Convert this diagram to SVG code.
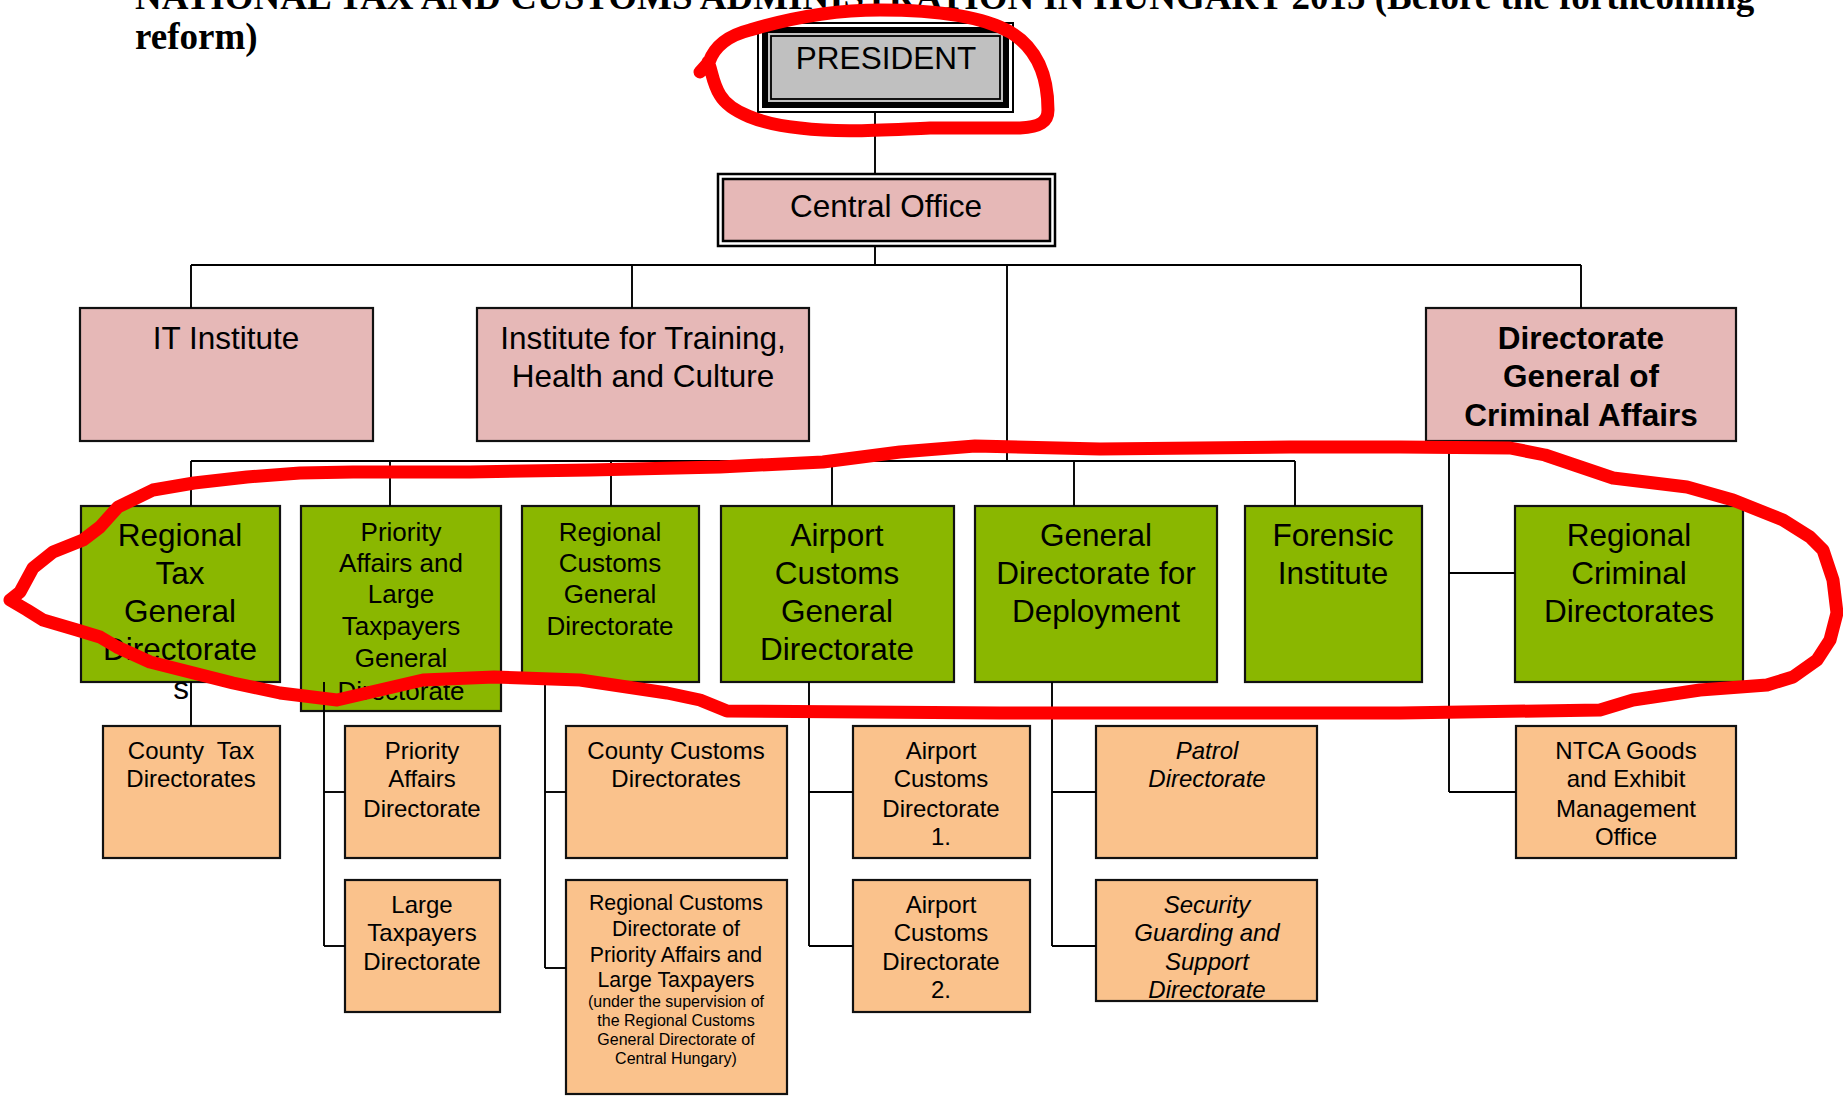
<svg xmlns="http://www.w3.org/2000/svg" width="1843" height="1096" viewBox="0 0 1843 1096">
<style>
text{font-family:"Liberation Sans",Arial,sans-serif;fill:#000;text-anchor:middle}
.title{font-family:"Liberation Serif","Times New Roman",serif;font-weight:bold;font-size:37px;text-anchor:start}
.pink{fill:#e6b8b7;stroke:#111;stroke-width:2.2}
.green{fill:#8ab700;stroke:#111;stroke-width:2.2}
.orange{fill:#fac28c;stroke:#111;stroke-width:2.2}
.big{font-size:31.5px}
.mid{font-size:26px}
.sm{font-size:24px}
.xs{font-size:21.3px}
.tiny{font-size:16px}
.it{font-style:italic}
.b{font-weight:bold}
#connectors line{stroke:#000;stroke-width:1.9;fill:none}
.red{fill:none;stroke:#ff0000;stroke-width:13;stroke-linecap:round;stroke-linejoin:round}
</style>
<rect width="1843" height="1096" fill="#fff"/>
<text class="title" x="135" y="9">NATIONAL TAX AND CUSTOMS ADMINISTRATION IN HUNGARY 2015 (Before the forthcoming</text>
<text class="title" x="135" y="49">reform)</text>

<g id="president">
<rect x="758" y="23" width="255" height="89" fill="#fff" stroke="#000" stroke-width="2"/>
<rect x="762" y="27" width="247" height="81" fill="#000"/>
<rect x="768" y="33" width="235" height="69" fill="#c0c0c0"/>
<rect x="771" y="36" width="229" height="63" fill="#c0c0c0" stroke="#000" stroke-width="1.8"/>
<text class="big" x="886" y="69">PRESIDENT</text>
</g>
<g id="central-office">
<rect x="718" y="174" width="337" height="72" fill="#fff" stroke="#000" stroke-width="2.5"/>
<rect x="723" y="179" width="327" height="62" fill="#e6b8b7" stroke="#000" stroke-width="2.5"/>
<text class="big" x="886" y="217">Central Office</text>
</g>
<g id="it-institute">
<rect class="pink" x="80" y="308" width="293" height="133"/>
<text class="big" x="226" y="349">IT Institute</text>
</g>
<g id="training-institute">
<rect class="pink" x="477" y="308" width="332" height="133"/>
<text class="big" x="643" y="349">Institute for Training,</text>
<text class="big" x="643" y="387">Health and Culture</text>
</g>
<g id="criminal-affairs">
<rect class="pink" x="1426" y="308" width="310" height="133"/>
<text class="big b" x="1581" y="349">Directorate</text>
<text class="big b" x="1581" y="387">General of</text>
<text class="big b" x="1581" y="426">Criminal Affairs</text>
</g>

<g id="regional-tax-gd">
<rect class="green" x="81" y="506" width="199" height="176"/>
<text class="big" x="180" y="546">Regional</text>
<text class="big" x="180" y="584">Tax</text>
<text class="big" x="180" y="622">General</text>
<text class="big" x="180" y="660">Directorate</text>
<text class="big" x="181" y="699">s</text>
</g>
<g id="priority-large-gd">
<rect class="green" x="301" y="506" width="200" height="205"/>
<text class="mid" x="401" y="541">Priority</text>
<text class="mid" x="401" y="572">Affairs and</text>
<text class="mid" x="401" y="603">Large</text>
<text class="mid" x="401" y="635">Taxpayers</text>
<text class="mid" x="401" y="667">General</text>
<text class="mid" x="401" y="700">Directorate</text>
</g>
<g id="regional-customs-gd">
<rect class="green" x="522" y="506" width="177" height="176"/>
<text class="mid" x="610" y="541">Regional</text>
<text class="mid" x="610" y="572">Customs</text>
<text class="mid" x="610" y="603">General</text>
<text class="mid" x="610" y="635">Directorate</text>
</g>
<g id="airport-customs-gd">
<rect class="green" x="721" y="506" width="233" height="176"/>
<text class="big" x="837" y="546">Airport</text>
<text class="big" x="837" y="584">Customs</text>
<text class="big" x="837" y="622">General</text>
<text class="big" x="837" y="660">Directorate</text>
</g>
<g id="deployment-gd">
<rect class="green" x="975" y="506" width="242" height="176"/>
<text class="big" x="1096" y="546">General</text>
<text class="big" x="1096" y="584">Directorate for</text>
<text class="big" x="1096" y="622">Deployment</text>
</g>
<g id="forensic-institute">
<rect class="green" x="1245" y="506" width="177" height="176"/>
<text class="big" x="1333" y="546">Forensic</text>
<text class="big" x="1333" y="584">Institute</text>
</g>
<g id="regional-criminal">
<rect class="green" x="1515" y="506" width="228" height="176"/>
<text class="big" x="1629" y="546">Regional</text>
<text class="big" x="1629" y="584">Criminal</text>
<text class="big" x="1629" y="622">Directorates</text>
</g>

<g id="county-tax">
<rect class="orange" x="103" y="726" width="177" height="132"/>
<text class="sm" x="191" y="759" xml:space="preserve">County  Tax</text>
<text class="sm" x="191" y="787">Directorates</text>
</g>
<g id="priority-affairs-dir">
<rect class="orange" x="345" y="726" width="155" height="132"/>
<text class="sm" x="422" y="759">Priority</text>
<text class="sm" x="422" y="787">Affairs</text>
<text class="sm" x="422" y="817">Directorate</text>
</g>
<g id="large-taxpayers-dir">
<rect class="orange" x="345" y="880" width="155" height="132"/>
<text class="sm" x="422" y="913">Large</text>
<text class="sm" x="422" y="941">Taxpayers</text>
<text class="sm" x="422" y="970">Directorate</text>
</g>
<g id="county-customs">
<rect class="orange" x="566" y="726" width="221" height="132"/>
<text class="sm" x="676" y="759">County Customs</text>
<text class="sm" x="676" y="787">Directorates</text>
</g>
<g id="regional-customs-priority">
<rect class="orange" x="566" y="880" width="221" height="214"/>
<text class="xs" x="676" y="910">Regional Customs</text>
<text class="xs" x="676" y="936">Directorate of</text>
<text class="xs" x="676" y="962">Priority Affairs and</text>
<text class="xs" x="676" y="987">Large Taxpayers</text>
<text class="tiny" x="676" y="1007">(under the supervision of</text>
<text class="tiny" x="676" y="1026">the Regional Customs</text>
<text class="tiny" x="676" y="1045">General Directorate of</text>
<text class="tiny" x="676" y="1064">Central Hungary)</text>
</g>
<g id="airport-customs-1">
<rect class="orange" x="853" y="726" width="177" height="132"/>
<text class="sm" x="941" y="759">Airport</text>
<text class="sm" x="941" y="787">Customs</text>
<text class="sm" x="941" y="817">Directorate</text>
<text class="sm" x="941" y="845">1.</text>
</g>
<g id="airport-customs-2">
<rect class="orange" x="853" y="880" width="177" height="132"/>
<text class="sm" x="941" y="913">Airport</text>
<text class="sm" x="941" y="941">Customs</text>
<text class="sm" x="941" y="970">Directorate</text>
<text class="sm" x="941" y="998">2.</text>
</g>
<g id="patrol-dir">
<rect class="orange" x="1096" y="726" width="221" height="132"/>
<text class="sm it" x="1207" y="759">Patrol</text>
<text class="sm it" x="1207" y="787">Directorate</text>
</g>
<g id="security-dir">
<rect class="orange" x="1096" y="880" width="221" height="121"/>
<text class="sm it" x="1207" y="913">Security</text>
<text class="sm it" x="1207" y="941">Guarding and</text>
<text class="sm it" x="1207" y="970">Support</text>
<text class="sm it" x="1207" y="998">Directorate</text>
</g>
<g id="ntca-goods">
<rect class="orange" x="1516" y="726" width="220" height="132"/>
<text class="sm" x="1626" y="759">NTCA Goods</text>
<text class="sm" x="1626" y="787">and Exhibit</text>
<text class="sm" x="1626" y="817">Management</text>
<text class="sm" x="1626" y="845">Office</text>
</g>

<g id="connectors">
<line x1="875" y1="113" x2="875" y2="174"/>
<line x1="875" y1="246" x2="875" y2="265"/>
<line x1="191" y1="265" x2="1581" y2="265"/>
<line x1="191" y1="265" x2="191" y2="308"/>
<line x1="632" y1="265" x2="632" y2="308"/>
<line x1="1581" y1="265" x2="1581" y2="308"/>
<line x1="1007" y1="265" x2="1007" y2="461"/>
<line x1="191" y1="461" x2="1295" y2="461"/>
<line x1="191" y1="461" x2="191" y2="506"/>
<line x1="390" y1="461" x2="390" y2="506"/>
<line x1="611" y1="461" x2="611" y2="506"/>
<line x1="832" y1="461" x2="832" y2="506"/>
<line x1="1074" y1="461" x2="1074" y2="506"/>
<line x1="1295" y1="461" x2="1295" y2="506"/>
<line x1="1449" y1="441" x2="1449" y2="792"/>
<line x1="1449" y1="573" x2="1515" y2="573"/>
<line x1="1449" y1="792" x2="1516" y2="792"/>
<line x1="191" y1="682" x2="191" y2="726"/>
<line x1="324" y1="682" x2="324" y2="946"/>
<line x1="324" y1="792" x2="345" y2="792"/>
<line x1="324" y1="946" x2="345" y2="946"/>
<line x1="545" y1="682" x2="545" y2="968"/>
<line x1="545" y1="792" x2="566" y2="792"/>
<line x1="545" y1="968" x2="566" y2="968"/>
<line x1="809" y1="682" x2="809" y2="946"/>
<line x1="809" y1="792" x2="853" y2="792"/>
<line x1="809" y1="946" x2="853" y2="946"/>
<line x1="1052" y1="682" x2="1052" y2="946"/>
<line x1="1052" y1="792" x2="1096" y2="792"/>
<line x1="1052" y1="946" x2="1096" y2="946"/>
</g>

<g id="annotations">
<path class="red" d="M 700,72 L 709,62 C 715,45 730,35 750,30 C 790,18 830,10 880,10 C 930,10 980,15 1010,32 C 1040,50 1048,80 1048,110 C 1048,122 1040,127 1020,128 L 930,128 C 880,130 840,133 800,128 C 760,124 730,112 720,95 C 712,82 712,70 708,62"/>
<path class="red" d="M 10,600 L 20,592 L 33,568 L 53,552 L 83,540 L 100,527 L 118,507 L 153,490 L 194,483 L 247,477 L 300,473 L 353,472 L 470,472 L 590,470 L 720,467 L 823,462 L 900,452 L 975,446 L 1100,449 L 1290,447 L 1400,447 L 1510,448 L 1545,455 L 1613,478 L 1687,487 L 1733,500 L 1783,520 L 1810,537 L 1823,550 L 1833,580 L 1837,613 L 1830,640 L 1817,660 L 1793,677 L 1767,685 L 1700,690 L 1633,700 L 1600,710 L 1400,713 L 1000,713 L 727,711 L 700,700 L 667,693 L 580,680 L 494,677 L 423,680 L 337,700 L 280,693 L 233,683 L 150,662 L 117,647 L 100,637 L 77,630 L 43,620 L 27,610 Z"/>
</g>
</svg>
